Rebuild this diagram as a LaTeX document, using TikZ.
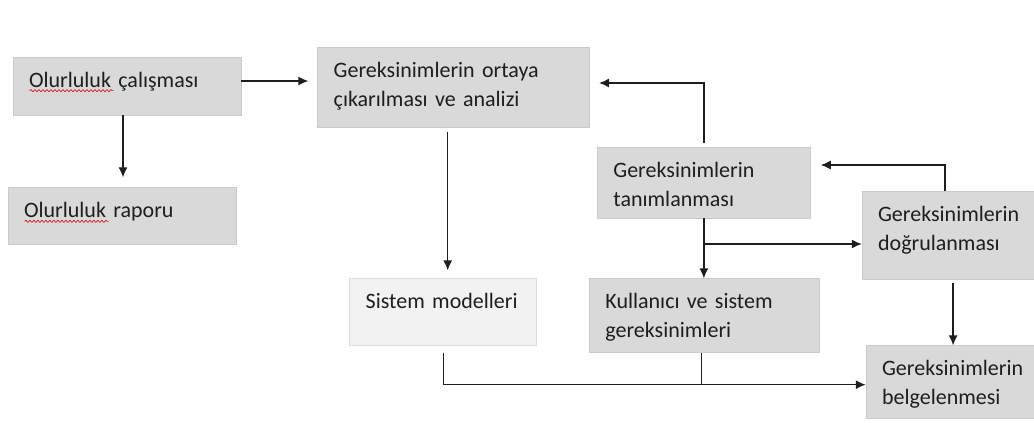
\documentclass[tikz,border=0pt]{standalone}
\usepackage{fontspec}
\setmainfont{Carlito}
\usepackage{tikz}
\usetikzlibrary{positioning,arrows.meta,decorations.pathmorphing}
\usepackage{xcolor}
\definecolor{boxgray}{HTML}{D9D9D9}
\definecolor{boxedge}{HTML}{CACACA}
\definecolor{lightbox}{HTML}{F2F2F2}
\definecolor{lightedge}{HTML}{DDDDDD}
\definecolor{linegray}{HTML}{1E1E1E}

\begin{document}
\begin{tikzpicture}[x=1pt,y=1pt, box/.style={draw=boxedge,fill=boxgray,line width=0.7pt,align=left,
  inner xsep=16pt,inner ysep=0pt,text height=30pt,font=\fontsize{22}{29}\selectfont},
  wh/.style 2 args={text width=#1,text depth=#2}, >={Latex[length=10pt,width=9pt]},
  spell/.style={draw=red!85!black,line width=0.6pt,decorate,decoration={snake,amplitude=1.1pt,segment length=4pt}},
  color=linegray, line width=1.3pt]
\useasboundingbox (0,0) rectangle (1034,-423);
\node[box,wh={196pt}{28pt}] (olur) at (127,-86) {Olurluluk çalışması};
\node[box,wh={196pt}{27pt},below=72pt of olur,xshift=-5pt] (rapor) {Olurluluk raporu};
\node[box,wh={240pt}{50pt},right=76pt of olur,yshift=-1pt] (analiz) {Gereksinimlerin ortaya\\çıkarılması ve analizi};
\node[box,wh={181pt}{41pt},right=7pt of analiz,yshift=-95.5pt] (tanim) {Gereksinimlerin\\tanımlanması};
\node[box,wh={142pt}{58pt},right=51pt of tanim,yshift=-52.5pt] (dogru) {Gereksinimlerin\\doğrulanması};
\node[box,fill=lightbox,draw=lightedge,wh={155pt}{37pt},below=151pt of analiz,xshift=-10.5pt] (model) {Sistem modelleri};
\node[box,wh={198pt}{44pt},right=52pt of model,yshift=-3.5pt] (kullan) {Kullanıcı ve sistem\\gereksinimleri};
\node[box,wh={138pt}{43pt},below=66pt of dogru,xshift=2pt] (belge) {Gereksinimlerin\\belgelenmesi};
% spell-check marks under "Olurluluk"
\draw[spell] ([xshift=17pt,yshift=-34pt]olur.north west) -- ++(84,0);
\draw[spell] ([xshift=17pt,yshift=-34pt]rapor.north west) -- ++(84,0);
\draw[->,shorten >=9pt] ([yshift=5pt]olur.east) -- ([yshift=5pt]olur.east -| analiz.west);
\draw[->,shorten >=10pt] ([xshift=-4pt]olur.south) -- ([xshift=-4pt]olur.south |- rapor.north);
\draw[->,shorten <=5pt,shorten >=8pt] ([xshift=-6pt]analiz.south) -- ([xshift=-6pt]analiz.south |- model.north);
\draw[->,shorten <=4pt,shorten >=9pt] (tanim.north) |- ([yshift=4pt]analiz.east);
\draw[->,shorten >=10pt] ([xshift=-4pt]dogru.north) |- ([yshift=17.5pt]tanim.east);
\draw[->] (tanim.south) -- (tanim.south |- kullan.north);
\draw[->] ([yshift=-9pt]dogru.west -| tanim.south) -- ([yshift=-9pt]dogru.west);
\draw[->,shorten <=4pt] ([xshift=4pt]dogru.south) -- ([xshift=4pt]dogru.south |- belge.north);
\draw[->,shorten <=7pt] (model.south) |- ([yshift=-2.5pt]belge.west);
\draw ([xshift=-3pt]kullan.south) -- ([xshift=-3pt,yshift=-2.5pt]kullan.south |- belge.west);
\end{tikzpicture}
\end{document}
